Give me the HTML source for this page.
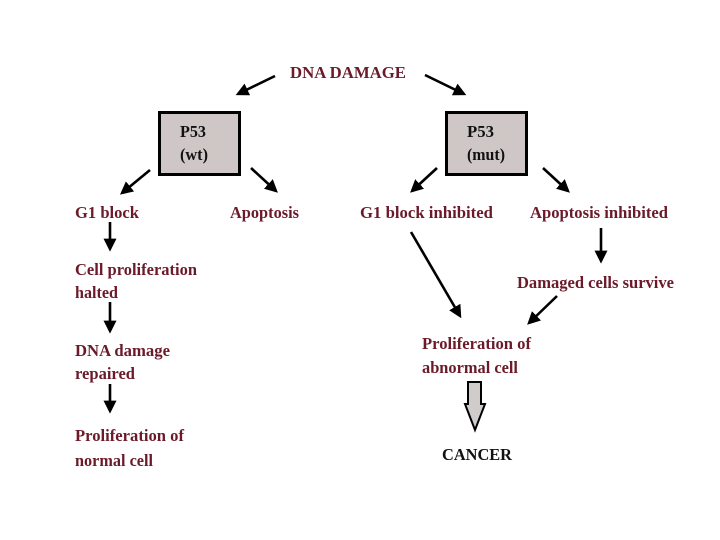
<!DOCTYPE html>
<html><head><meta charset="utf-8"><style>
html,body{margin:0;padding:0;background:#fff;}
svg{display:block;}
text{font-family:"Liberation Serif",serif;font-weight:bold;font-size:17px;fill:#6b1a2a;}
.k{fill:#111;}
</style></head><body>
<svg width="720" height="540" viewBox="0 0 720 540" xmlns="http://www.w3.org/2000/svg">
<defs>
<marker id="a" markerWidth="5" markerHeight="5" refX="4" refY="2.5" orient="auto" markerUnits="strokeWidth">
<path d="M0,0 L5,2.5 L0,5 z" fill="#000"/></marker>
</defs>
<g stroke="#000" stroke-width="2.6" fill="none" marker-end="url(#a)">
<line x1="275" y1="76" x2="238" y2="94"/>
<line x1="425" y1="75" x2="464" y2="94"/>
<line x1="150" y1="170" x2="122" y2="193"/>
<line x1="251" y1="168" x2="276" y2="191"/>
<line x1="437" y1="168" x2="412" y2="191"/>
<line x1="543" y1="168" x2="568" y2="191"/>
<line x1="110" y1="222" x2="110" y2="249"/>
<line x1="110" y1="302" x2="110" y2="331"/>
<line x1="110" y1="384" x2="110" y2="411"/>
<line x1="601" y1="228" x2="601" y2="261"/>
<line x1="411" y1="232" x2="460" y2="316"/>
<line x1="557" y1="296" x2="529" y2="323"/>
</g>
<rect x="159.5" y="112.5" width="80" height="62" fill="#cfc7c5" stroke="#000" stroke-width="3"/>
<rect x="446.5" y="112.5" width="80" height="62" fill="#cfc7c5" stroke="#000" stroke-width="3"/>
<path d="M468,382 H481 V404 H485 L475,430 L465,404 H468 Z" fill="#d0cccc" stroke="#000" stroke-width="2"/>
<text x="290" y="78" textLength="116" lengthAdjust="spacingAndGlyphs">DNA DAMAGE</text>
<text class="k" x="180" y="137" textLength="26" lengthAdjust="spacingAndGlyphs">P53</text>
<text class="k" x="180" y="160" textLength="28" lengthAdjust="spacingAndGlyphs">(wt)</text>
<text class="k" x="467" y="137" textLength="27" lengthAdjust="spacingAndGlyphs">P53</text>
<text class="k" x="467" y="160" textLength="38" lengthAdjust="spacingAndGlyphs">(mut)</text>
<text x="75" y="218" textLength="64" lengthAdjust="spacingAndGlyphs">G1 block</text>
<text x="230" y="218" textLength="69" lengthAdjust="spacingAndGlyphs">Apoptosis</text>
<text x="360" y="218" textLength="133" lengthAdjust="spacingAndGlyphs">G1 block inhibited</text>
<text x="530" y="218" textLength="138" lengthAdjust="spacingAndGlyphs">Apoptosis inhibited</text>
<text x="75" y="275" textLength="122" lengthAdjust="spacingAndGlyphs">Cell proliferation</text>
<text x="75" y="298" textLength="43" lengthAdjust="spacingAndGlyphs">halted</text>
<text x="75" y="356" textLength="95" lengthAdjust="spacingAndGlyphs">DNA damage</text>
<text x="75" y="379" textLength="60" lengthAdjust="spacingAndGlyphs">repaired</text>
<text x="75" y="441" textLength="109" lengthAdjust="spacingAndGlyphs">Proliferation of</text>
<text x="75" y="466" textLength="78" lengthAdjust="spacingAndGlyphs">normal cell</text>
<text x="517" y="288" textLength="157" lengthAdjust="spacingAndGlyphs">Damaged cells survive</text>
<text x="422" y="349" textLength="109" lengthAdjust="spacingAndGlyphs">Proliferation of</text>
<text x="422" y="373" textLength="96" lengthAdjust="spacingAndGlyphs">abnormal cell</text>
<text class="k" x="442" y="460" textLength="70" lengthAdjust="spacingAndGlyphs">CANCER</text>
</svg>
</body></html>
